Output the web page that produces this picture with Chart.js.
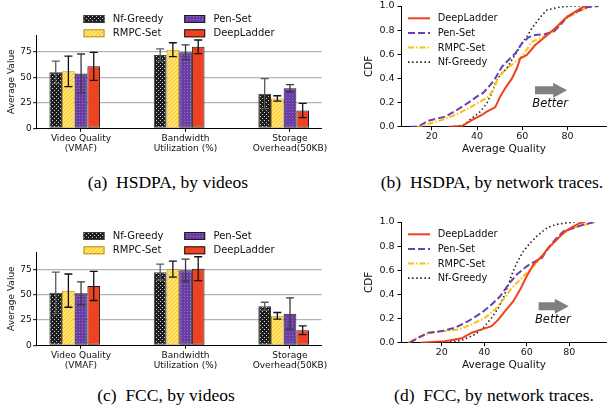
<!DOCTYPE html>
<html>
<head>
<meta charset="utf-8">
<script src="https://cdn.jsdelivr.net/npm/chart.js@4.4.1/dist/chart.umd.min.js"></script>
<style>
    html, body { margin: 0; padding: 0; background: #fff; }
    body { width: 607px; height: 411px; position: relative; overflow: hidden; }
    canvas { position: absolute; }
    .cap { position: absolute; font-family: "Liberation Serif", "DejaVu Serif", serif; font-size: 17.5px; line-height: 18px; color: #000; white-space: nowrap; transform: translateX(-50%); }
</style>
</head>
<body>
<canvas id="hsdpaVideos" width="335" height="165" style="left:0;top:0"></canvas>
<canvas id="hsdpaTraces" width="252" height="165" style="left:355px;top:0"></canvas>
<canvas id="fccVideos" width="335" height="165" style="left:0;top:217px"></canvas>
<canvas id="fccTraces" width="252" height="165" style="left:355px;top:216px"></canvas>
<div class="cap" style="left:168px;top:173px">(a)&nbsp;&nbsp;HSDPA, by videos</div>
<div class="cap" style="left:492px;top:173px">(b)&nbsp;&nbsp;HSDPA, by network traces.</div>
<div class="cap" style="left:166px;top:386px">(c)&nbsp;&nbsp;FCC, by videos</div>
<div class="cap" style="left:494px;top:386px">(d)&nbsp;&nbsp;FCC, by network traces.</div>
<script>
// ---- bar charts: average value per metric ----
const categories = [['Video Quality', '(VMAF)'], ['Bandwidth', 'Utilization (%)'], ['Storage', 'Overhead(50KB)']]
const methods = ['Nf-Greedy', 'RMPC-Set', 'Pen-Set', 'DeepLadder']
const barYTicks = [0, 25, 50, 75]

// HSDPA, by videos
const hsdpaNfGreedy = [54.8, 71.8, 33.9]
const hsdpaNfGreedyErr = [11, 6, 14.7]
const hsdpaRmpcSet = [55.8, 77.0, 29.3]
const hsdpaRmpcSetErr = [15, 6.8, 2.6]
const hsdpaPenSet = [53.8, 74.5, 39.3]
const hsdpaPenSetErr = [19, 7.3, 3.4]
const hsdpaDeepLadder = [60.7, 79.8, 17.5]
const hsdpaDeepLadderErr = [13.7, 6.7, 7]

// FCC, by videos
const fccNfGreedy = [52.0, 72.5, 38.7]
const fccNfGreedyErr = [20.5, 8, 4]
const fccRmpcSet = [54.2, 75.5, 29.2]
const fccRmpcSetErr = [16.5, 8, 3.3]
const fccPenSet = [51.5, 74.5, 31.4]
const fccPenSetErr = [11.3, 11, 15.6]
const fccDeepLadder = [58.8, 76.0, 14.9]
const fccDeepLadderErr = [14.4, 11.8, 4.3]

// ---- CDF charts: average quality per network trace ----
const cdfNames = ['DeepLadder', 'Pen-Set', 'RMPC-Set', 'Nf-Greedy']
const cdfXTicks = [20, 40, 60, 80]
const cdfYTicks = [0, 0.2, 0.4, 0.6, 0.8, 1.0]

// HSDPA, by network traces
const hsdpaDlQ = [27.5, 33.3, 37.7, 42.1, 44.3, 48.0, 50.2, 52.4, 55.4, 57.6, 59.1, 62.0, 65.7, 70.1, 74.5, 79.0, 83.4, 87.1, 88.5]
const hsdpaDlCdf = [0, 0.005, 0.055, 0.097, 0.124, 0.16, 0.249, 0.318, 0.40, 0.484, 0.567, 0.594, 0.677, 0.746, 0.815, 0.898, 0.953, 0.994, 1.0]
const hsdpaPenQ = [10.4, 14, 18.5, 25.9, 31.0, 36.2, 39.9, 42.8, 45.8, 48.0, 51.0, 53.9, 56.9, 59.8, 62.7, 65.7, 70.1, 73.8, 76.8, 79.7, 84.1, 88.6, 93.7]
const hsdpaPenCdf = [0, 0, 0.05, 0.083, 0.138, 0.199, 0.249, 0.282, 0.345, 0.40, 0.497, 0.553, 0.608, 0.69, 0.74, 0.76, 0.768, 0.787, 0.843, 0.911, 0.953, 0.989, 1.0]
const hsdpaRmpcQ = [13.3, 16, 18.5, 24.4, 30.3, 36.2, 41.4, 45.0, 47.2, 49.5, 52.4, 56.1, 59.1, 61.3, 64.2, 68.7, 73.8, 77.5, 80.4, 84.9, 89.3, 90.5]
const hsdpaRmpcCdf = [0, 0, 0.022, 0.055, 0.097, 0.152, 0.207, 0.249, 0.304, 0.414, 0.47, 0.525, 0.567, 0.621, 0.704, 0.74, 0.787, 0.857, 0.911, 0.953, 0.994, 1.0]
const hsdpaNfQ = [26.6, 30, 34.0, 37.7, 41.4, 44.3, 46.5, 48.0, 50.2, 53.2, 55.4, 57.6, 59.8, 62.0, 64.2, 66.4, 68.7, 70.9, 76.0, 81.9, 91.5]
const hsdpaNfCdf = [0, 0, 0.014, 0.07, 0.124, 0.194, 0.277, 0.36, 0.428, 0.484, 0.553, 0.621, 0.69, 0.746, 0.815, 0.87, 0.925, 0.967, 0.989, 1.0, 1.0]

// FCC, by network traces
const fccDlQ = [10, 21.5, 29.4, 34.1, 38.8, 43.5, 46.7, 49.8, 53.7, 56.9, 60.0, 63.1, 67.1, 70.2, 74.2, 78.1, 82.0, 85.2, 87.5]
const fccDlCdf = [0, 0.013, 0.036, 0.083, 0.11, 0.137, 0.193, 0.261, 0.344, 0.44, 0.55, 0.647, 0.716, 0.785, 0.854, 0.922, 0.964, 0.992, 1.0]
const fccPenQ = [5.0, 9.0, 13.7, 20.0, 26.3, 32.5, 38.8, 43.5, 47.5, 51.4, 55.3, 60.0, 64.0, 67.1, 70.2, 73.4, 77.3, 82.0, 86.7, 92.2]
const fccPenCdf = [0, 0.041, 0.083, 0.096, 0.124, 0.179, 0.248, 0.317, 0.385, 0.482, 0.565, 0.633, 0.674, 0.702, 0.785, 0.854, 0.922, 0.95, 0.978, 1.0]
const fccRmpcQ = [4.3, 9.0, 15.3, 21.5, 27.8, 34.1, 40.4, 45.1, 49.0, 53.0, 56.9, 60.8, 64.0, 67.9, 71.8, 75.7, 79.6, 84.4, 89.1, 92.2]
const fccRmpcCdf = [0, 0.047, 0.083, 0.096, 0.11, 0.151, 0.207, 0.275, 0.358, 0.455, 0.523, 0.592, 0.647, 0.73, 0.812, 0.881, 0.936, 0.964, 0.983, 1.0]
const fccNfQ = [20.0, 29.4, 35.7, 39.6, 43.5, 46.7, 49.0, 51.4, 53.0, 55.3, 58.4, 61.6, 65.5, 69.5, 73.4, 78.1, 82.8]
const fccNfCdf = [0, 0.019, 0.069, 0.124, 0.207, 0.289, 0.372, 0.482, 0.565, 0.661, 0.757, 0.826, 0.895, 0.95, 0.978, 0.992, 1.0]

const FONT = 'DejaVu Sans'

function dotPattern(bg, fg, size, dots) {
    let c = document.createElement('canvas')
    c.width = size
    c.height = size
    let g = c.getContext('2d')
    g.fillStyle = bg
    g.fillRect(0, 0, size, size)
    g.fillStyle = fg
    dots.forEach(d => g.fillRect(d[0], d[1], 1, 1))
    return g.createPattern(c, 'repeat')
}

const barFills = [
    dotPattern('#1e1e1e', '#cfcfcf', 4, [[0, 0], [2, 2]]),
    dotPattern('#ffd444', '#fff0a8', 4, [[0, 0], [2, 2], [1, 3], [3, 1]]),
    dotPattern('#6a3da6', '#9272c6', 3, [[1, 1]]),
    '#ee4222'
]
const barEdges = ['#3a3a3a', '#b8901a', '#1a1a1a', '#1a1a1a']
const errColors = ['#5a5a5a', '#111', '#3a3a3a', '#111']

const cdfColors = ['#f2401d', '#6b3fb5', '#ffbf0a', '#222']
const cdfWidths = [2, 2, 2, 1.6]
const cdfDashes = [[], [7, 3], [6, 2, 1.5, 2], [1.5, 2.6]]

// error bars + 2x2 legend for the bar charts
const barExtras = {
    id: 'barExtras',
    afterDatasetsDraw(chart) {
        let ctx = chart.ctx
        let y = chart.scales.y
        ctx.save()
        chart.data.datasets.forEach((ds, i) => {
            let meta = chart.getDatasetMeta(i)
            meta.data.forEach((bar, j) => {
                let v = ds.data[j].y, e = ds.errors[j]
                let top = y.getPixelForValue(v + e), bot = y.getPixelForValue(v - e)
                ctx.strokeStyle = errColors[i]
                ctx.lineWidth = 1.3
                ctx.beginPath()
                ctx.moveTo(bar.x, top); ctx.lineTo(bar.x, bot)
                ctx.moveTo(bar.x - 4, top); ctx.lineTo(bar.x + 4, top)
                ctx.moveTo(bar.x - 4, bot); ctx.lineTo(bar.x + 4, bot)
                ctx.stroke()
            })
        })
        ctx.restore()
    },
    afterDraw(chart) {
        let ctx = chart.ctx
        ctx.save()
        ctx.font = '10px "' + FONT + '"'
        ctx.textBaseline = 'middle'
        methods.forEach((m, i) => {
            let col = Math.floor(i / 2), row = i % 2
            let x = 83.5 + col * 100.7, yc = 19 + row * 14.3
            ctx.fillStyle = barFills[i]
            ctx.fillRect(x, yc - 4, 21, 8)
            ctx.strokeStyle = barEdges[i]
            ctx.lineWidth = 1
            ctx.strokeRect(x + 0.5, yc - 3.5, 20, 7)
            ctx.fillStyle = '#111'
            ctx.fillText(m, x + 29.3, yc + 0.5)
        })
        ctx.restore()
    }
}

function fixBox(w, h) {
    return function (scale) {
        if (w !== null) scale.width = w
        if (h !== null) scale.height = h
        scale.paddingTop = 0
        scale.paddingBottom = 0
        scale.paddingLeft = 0
        scale.paddingRight = 0
    }
}

function barChart(id, vals, errs, yMax) {
    return new Chart(document.getElementById(id), {
        type: 'bar',
        data: {
            datasets: methods.map((m, i) => ({
                label: m,
                data: vals[i].map((v, j) => ({ x: j, y: v })),
                errors: errs[i],
                backgroundColor: barFills[i],
                borderColor: barEdges[i],
                borderWidth: 1,
                borderSkipped: false,
                categoryPercentage: 0.485,
                barPercentage: 1
            }))
        },
        options: {
            responsive: false,
            animation: false,
            layout: { padding: { top: 35, right: 13.3, left: 0, bottom: 0 } },
            plugins: { legend: { display: false }, tooltip: { enabled: false } },
            scales: {
                x: {
                    type: 'linear',
                    offset: false,
                    bounds: 'data',
                    min: -0.364,
                    max: 2.364,
                    afterBuildTicks: s => { s.ticks = categories.map((c, j) => ({ value: j + 0.06 })) },
                    afterFit: fixBox(null, 36.7),
                    grid: { offset: false, drawOnChartArea: false, drawTicks: true, tickLength: 3.5, color: '#000', tickColor: '#000' },
                    border: { display: true, color: '#000', width: 1 },
                    ticks: {
                        maxRotation: 0,
                        autoSkip: false,
                        padding: 1,
                        color: '#111',
                        font: { family: FONT, size: 9 },
                        callback: v => categories[Math.round(v)]
                    }
                },
                y: {
                    min: 0,
                    max: yMax,
                    afterBuildTicks: s => { s.ticks = barYTicks.map(v => ({ value: v })) },
                    afterFit: fixBox(36.7, null),
                    grid: {
                        color: c => (c.tick && c.tick.value === 0) ? 'rgba(0,0,0,0)' : '#b4b4b4',
                        lineWidth: 1.3,
                        tickColor: '#000',
                        tickWidth: 1,
                        tickLength: 3.5
                    },
                    border: { display: true, color: '#000', width: 1 },
                    ticks: { padding: 1.5, color: '#111', font: { family: FONT, size: 9 } },
                    title: { display: true, text: 'Average Value', color: '#111', font: { family: FONT, size: 9 }, padding: { top: 6.3, bottom: 0 } }
                }
            }
        },
        plugins: [barExtras]
    })
}

// legend + "Better" arrow for the CDF charts
const cdfExtras = {
    id: 'cdfExtras',
    afterDraw(chart) {
        let ctx = chart.ctx
        let xs = chart.scales.x, ys = chart.scales.y
        ctx.save()
        ctx.font = '9.8px "' + FONT + '"'
        ctx.textBaseline = 'middle'
        cdfNames.forEach((n, i) => {
            let yc = 18.3 + i * 14.6
            ctx.strokeStyle = cdfColors[i]
            ctx.lineWidth = cdfWidths[i]
            ctx.setLineDash(cdfDashes[i])
            ctx.beginPath()
            ctx.moveTo(53, yc)
            ctx.lineTo(75, yc)
            ctx.stroke()
            ctx.setLineDash([])
            ctx.fillStyle = '#111'
            ctx.fillText(n, 82.7, yc + 0.5)
        })
        let x0 = xs.getPixelForValue(65.6), x1 = xs.getPixelForValue(79.8)
        let ya = ys.getPixelForValue(0.303)
        ctx.fillStyle = '#808080'
        ctx.beginPath()
        ctx.moveTo(x0, ya - 4)
        ctx.lineTo(x1 - 14, ya - 4)
        ctx.lineTo(x1 - 14, ya - 7.5)
        ctx.lineTo(x1, ya)
        ctx.lineTo(x1 - 14, ya + 7.5)
        ctx.lineTo(x1 - 14, ya + 4)
        ctx.lineTo(x0, ya + 4)
        ctx.closePath()
        ctx.fill()
        ctx.fillStyle = '#111'
        ctx.font = 'italic 11.5px "' + FONT + '"'
        ctx.textAlign = 'center'
        ctx.fillText('Better', xs.getPixelForValue(72.3), ys.getPixelForValue(0.19))
        ctx.restore()
    }
}

function cdfChart(id, qs, cdfs, xMin, xMax) {
    return new Chart(document.getElementById(id), {
        type: 'line',
        data: {
            datasets: cdfNames.map((n, i) => ({
                label: n,
                data: qs[i].map((q, k) => ({ x: q, y: cdfs[i][k] })),
                borderColor: cdfColors[i],
                borderWidth: cdfWidths[i],
                borderDash: cdfDashes[i],
                pointRadius: 0,
                fill: false,
                tension: 0
            }))
        },
        options: {
            responsive: false,
            animation: false,
            layout: { padding: { top: 6, right: 0, left: 0, bottom: 0 } },
            plugins: { legend: { display: false }, tooltip: { enabled: false } },
            scales: {
                x: {
                    type: 'linear',
                    min: xMin,
                    max: xMax,
                    afterBuildTicks: s => { s.ticks = cdfXTicks.map(v => ({ value: v })) },
                    afterFit: fixBox(null, 38.3),
                    grid: { drawOnChartArea: false, drawTicks: true, tickLength: 3.5, color: '#000', tickColor: '#000' },
                    border: { display: true, color: '#000', width: 1 },
                    ticks: { maxRotation: 0, padding: 0.5, color: '#111', font: { family: FONT, size: 9.5 } },
                    title: { display: true, text: 'Average Quality', color: '#111', font: { family: FONT, size: 10.5 }, padding: { top: 0, bottom: 9.4 } }
                },
                y: {
                    min: 0,
                    max: 1,
                    afterBuildTicks: s => { s.ticks = cdfYTicks.map(v => ({ value: v })) },
                    afterFit: fixBox(46, null),
                    grid: { drawOnChartArea: false, drawTicks: true, tickLength: 3.5, color: '#000', tickColor: '#000' },
                    border: { display: true, color: '#000', width: 1 },
                    ticks: { padding: 3, color: '#111', font: { family: FONT, size: 9.5 }, callback: v => v.toFixed(1) },
                    title: { display: true, text: 'CDF', color: '#111', font: { family: FONT, size: 10.5 }, padding: { top: 8, bottom: 0 } }
                }
            }
        },
        plugins: [cdfExtras]
    })
}

document.addEventListener("DOMContentLoaded", () => {
    barChart('hsdpaVideos',
        [hsdpaNfGreedy, hsdpaRmpcSet, hsdpaPenSet, hsdpaDeepLadder],
        [hsdpaNfGreedyErr, hsdpaRmpcSetErr, hsdpaPenSetErr, hsdpaDeepLadderErr], 91.4)
    barChart('fccVideos',
        [fccNfGreedy, fccRmpcSet, fccPenSet, fccDeepLadder],
        [fccNfGreedyErr, fccRmpcSetErr, fccPenSetErr, fccDeepLadderErr], 92.5)
    cdfChart('hsdpaTraces',
        [hsdpaDlQ, hsdpaPenQ, hsdpaRmpcQ, hsdpaNfQ],
        [hsdpaDlCdf, hsdpaPenCdf, hsdpaRmpcCdf, hsdpaNfCdf], 6.4, 97.4)
    cdfChart('fccTraces',
        [fccDlQ, fccPenQ, fccRmpcQ, fccNfQ],
        [fccDlCdf, fccPenCdf, fccRmpcCdf, fccNfCdf], 0.8, 97.8)
})
</script>
</body>
</html>
